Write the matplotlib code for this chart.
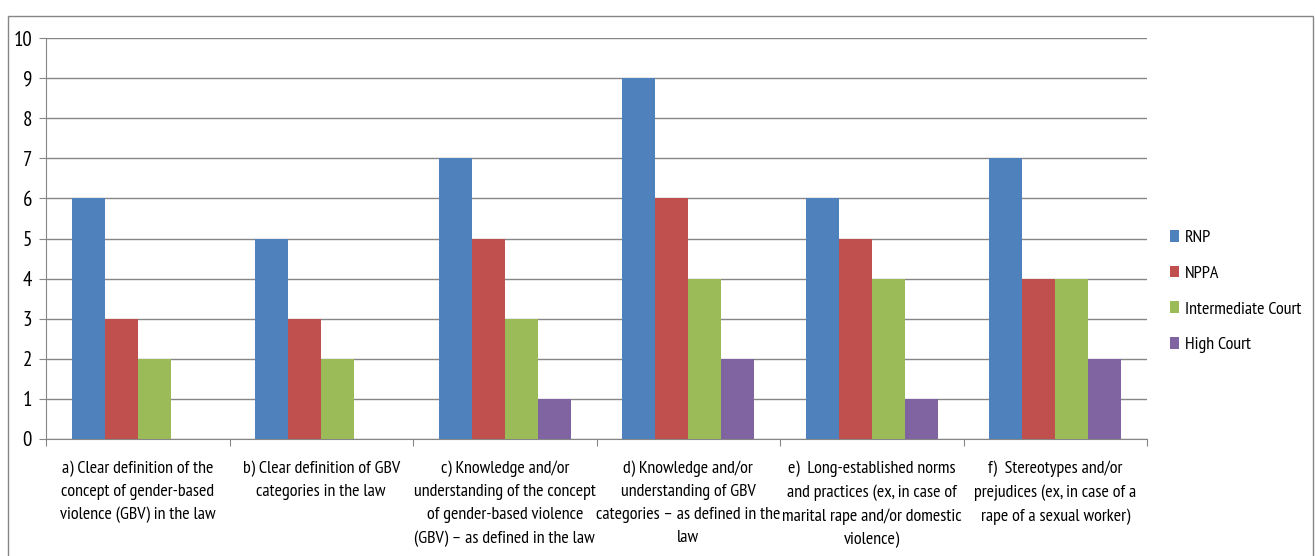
import numpy as np
import matplotlib
matplotlib.use("Agg")
import matplotlib.pyplot as plt
from matplotlib.patches import Rectangle

plt.rcParams['font.family'] = ['PT Sans Narrow', 'DejaVu Sans']

# categorias del eje x
categories = [
    "a) Clear definition of the\nconcept of gender-based\nviolence (GBV) in the law",
    "b) Clear definition of GBV\ncategories in the law",
    "c) Knowledge and/or\nunderstanding of the concept\nof gender-based violence\n(GBV) \u2013 as defined in the law",
    "d) Knowledge and/or\nunderstanding of GBV\ncategories \u2013 as defined in the\nlaw",
    "e)  Long-established norms\nand practices (ex, in case of\nmarital rape and/or domestic\nviolence)",
    "f)  Stereotypes and/or\nprejudices (ex, in case of a\nrape of a sexual worker)",
]

series_names = ["RNP", "NPPA", "Intermediate Court", "High Court"]
rnp = [6, 5, 7, 9, 6, 7]
nppa = [3, 3, 5, 6, 5, 4]
intermediate = [2, 2, 3, 4, 4, 4]
high_court = [0, 0, 1, 2, 1, 2]

colores = ["#4F81BD", "#C0504D", "#9BBB59", "#8064A2"]

W, H = 1315, 556
fig = plt.figure(figsize=(W / 100, H / 100), dpi=100)

# borde exterior del grafico
fig.add_artist(Rectangle((8 / W, -0.1), (1313 - 8) / W, 1.1 - 16 / H,
                         transform=fig.transFigure, fill=False,
                         edgecolor="#868686", lw=1.0))

ax = fig.add_axes([46 / W, 1 - 439 / H, (1147 - 46) / W, (439 - 38) / H])

x = np.arange(len(categories))
width = 0.18
valores = [rnp, nppa, intermediate, high_court]
for i, (vals, name, c) in enumerate(zip(valores, series_names, colores)):
    ax.bar(x + (i - 1.5) * width, vals, width, color=c, label=name, zorder=3)

ax.set_xlim(-0.5, len(categories) - 0.5)
ax.set_ylim(0, 10)
ax.set_yticks(range(0, 11))
ax.yaxis.grid(True, color="#868686", lw=1.0, zorder=0)

for s in ["top", "right"]:
    ax.spines[s].set_visible(False)
ax.spines["left"].set_color("#868686")
ax.spines["bottom"].set_color("#868686")

ax.tick_params(axis="y", length=5, color="#868686", labelsize=15, pad=5)
ax.set_xticks(np.arange(-0.5, len(categories) + 0.5, 1.0))
ax.set_xticklabels([])
ax.tick_params(axis="x", length=5, color="#868686")

for xi, lab in zip(x, categories):
    ax.text(xi, -0.54, lab, ha="center", va="top", fontsize=13,
            linespacing=1.58, transform=ax.transData)

leg = ax.legend(loc="upper left", bbox_to_anchor=(1154 / W, 1 - 214 / H),
                bbox_transform=fig.transFigure, frameon=False,
                fontsize=13, handlelength=0.5, handleheight=0.6,
                handletextpad=0.3, labelspacing=1.08)

fig.savefig("out.png", dpi=100)
